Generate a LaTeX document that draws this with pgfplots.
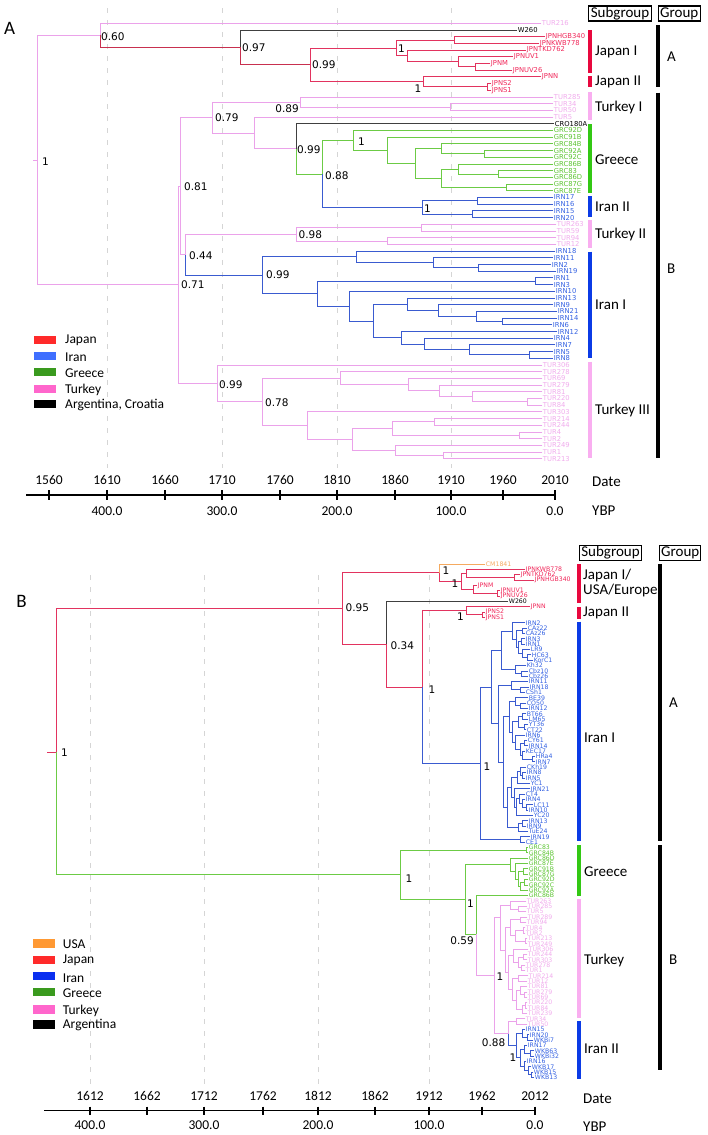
\documentclass[border=0pt]{standalone}
\usepackage{pgfplots}
\pgfplotsset{compat=1.18}
\usepackage{fontspec}
\setmainfont{Carlito}
\newfontfamily\dv{DejaVu Sans}

\definecolor{pinkline}{HTML}{EBA2EA}
\definecolor{pinklab}{HTML}{F0ACEC}
\definecolor{jpnline}{HTML}{E2335F}
\definecolor{crimson}{HTML}{C8304F}
\definecolor{jpnlab}{HTML}{F0285A}
\definecolor{grnline}{HTML}{6CCB45}
\definecolor{grnlab}{HTML}{5CC432}
\definecolor{bluline}{HTML}{3A5BD0}
\definecolor{blulab}{HTML}{3562E2}
\definecolor{blkline}{HTML}{404040}
\definecolor{orgline}{HTML}{F5AA60}
\definecolor{barjpn}{HTML}{E8083E}
\definecolor{barpink}{HTML}{F9AEF0}
\definecolor{bargrn}{HTML}{33C814}
\definecolor{barblu}{HTML}{0B3BE6}
\definecolor{lgjpn}{HTML}{FF2A2A}
\definecolor{lgiranA}{HTML}{3F6FFF}
\definecolor{lgiranB}{HTML}{0A2FF0}
\definecolor{lggrn}{HTML}{3A9A1E}
\definecolor{lgtur}{HTML}{FF66CC}
\definecolor{lgusa}{HTML}{FF9933}
\definecolor{gridc}{HTML}{D5D5D5}

% leaf index -> vertical position (panel A and panel B)
\newcommand{\YA}[1]{\fpeval{16.6+6.7*(#1)}}
\newcommand{\YB}[1]{\fpeval{558.65+5.35*(#1)}}
% one tree branch: parent (x, index) -> child (x, index)
\newcommand{\edgeA}[4]{(#1,\YA{#2}) (#1,\YA{#4}) (#3,\YA{#4}) (nan,nan) }
\newcommand{\edgeB}[4]{(#1,\YB{#2}) (#1,\YB{#4}) (#3,\YB{#4}) (nan,nan) }
\newcommand{\drawedges}[2]{\edef\tmp{\noexpand\addplot[#1] coordinates {#2};}\tmp}
\newcommand{\supv}[4][west]{\node[anchor=#1, inner sep=0pt, font=\dv\fontsize{10.5}{11}\selectfont] at (axis cs:#2,#3) {#4};}
\newcommand{\sgl}[3]{\node[anchor=west, inner sep=0pt, font=\fontsize{15}{16}\selectfont] at (axis cs:#1,#2) {#3};}
\newcommand{\tkl}[3]{\node[inner sep=0pt, font=\fontsize{13.5}{14}\selectfont] at (axis cs:#1,#2) {#3};}
\newcommand{\lgt}[3]{\node[anchor=west, inner sep=0pt, font=\fontsize{13.5}{14}\selectfont] at (axis cs:#1,#2) {#3};}

% ---------------- Panel A tree ----------------
\def\pinkA{%
(33,\YA{21.42}) (37,\YA{21.42}) (nan,nan)
\edgeA{37}{21.42}{100}{2.805}\edgeA{37}{21.42}{178}{40.034}\edgeA{100}{2.805}{541}{1}
\edgeA{178}{40.034}{180}{25.31}\edgeA{178}{40.034}{217}{54.758}
\edgeA{180}{25.31}{212}{15.061}\edgeA{180}{25.31}{185}{35.559}
\edgeA{212}{15.061}{300}{12.75}\edgeA{212}{15.061}{254}{17.373}
\edgeA{300}{12.75}{553}{12}\edgeA{300}{12.75}{450}{13.5}
\edgeA{450}{13.5}{553}{13}\edgeA{450}{13.5}{553}{14}
\edgeA{254}{17.373}{553}{15}\edgeA{254}{17.373}{296}{19.746}
\edgeA{185}{35.559}{296}{32.5}\edgeA{296}{32.5}{421}{31.5}\edgeA{296}{32.5}{387}{33.5}
\edgeA{421}{31.5}{556}{31}\edgeA{421}{31.5}{556}{32}\edgeA{387}{33.5}{556}{33}\edgeA{387}{33.5}{556}{34}
\edgeA{217}{54.758}{542}{52}\edgeA{217}{54.758}{262}{57.516}
\edgeA{262}{57.516}{340}{53.969}\edgeA{262}{57.516}{307}{61.0625}
\edgeA{340}{53.969}{542}{53}\edgeA{340}{53.969}{408}{54.9375}
\edgeA{408}{54.9375}{542}{54}\edgeA{408}{54.9375}{439}{55.875}
\edgeA{439}{55.875}{542}{55}\edgeA{439}{55.875}{472}{56.75}
\edgeA{472}{56.75}{542}{56}\edgeA{472}{56.75}{527}{57.5}
\edgeA{527}{57.5}{542}{57}\edgeA{527}{57.5}{542}{58}
\edgeA{307}{61.0625}{542}{59}\edgeA{307}{61.0625}{352}{63.125}
\edgeA{352}{63.125}{392}{61.5}\edgeA{352}{63.125}{395}{64.75}
\edgeA{392}{61.5}{434}{60.5}\edgeA{392}{61.5}{519}{62.5}
\edgeA{434}{60.5}{542}{60}\edgeA{434}{60.5}{542}{61}
\edgeA{519}{62.5}{542}{62}\edgeA{519}{62.5}{542}{63}
\edgeA{395}{64.75}{542}{64}\edgeA{395}{64.75}{443}{65.5}
\edgeA{443}{65.5}{542}{65}\edgeA{443}{65.5}{542}{66}}
\def\crimA{\edgeA{100}{2.805}{240}{4.609}\edgeA{240}{4.609}{310}{7.21875}}
\def\redA{%
\edgeA{310}{7.21875}{396}{4.6875}\edgeA{310}{7.21875}{423}{9.75}
\edgeA{396}{4.6875}{454}{3.5}\edgeA{396}{4.6875}{407}{5.875}
\edgeA{454}{3.5}{545}{3}\edgeA{454}{3.5}{539}{4}
\edgeA{407}{5.875}{526}{5}\edgeA{407}{5.875}{458}{6.75}
\edgeA{458}{6.75}{513}{6}\edgeA{458}{6.75}{475}{7.5}
\edgeA{475}{7.5}{490}{7}\edgeA{475}{7.5}{512}{8}
\edgeA{423}{9.75}{541}{9}\edgeA{423}{9.75}{487}{10.5}
\edgeA{487}{10.5}{491}{10}\edgeA{487}{10.5}{491}{11}}
\def\blackA{\edgeA{240}{4.609}{517}{2}\edgeA{296}{19.746}{554}{16}}
\def\greenA{%
\edgeA{296}{19.746}{322}{23.492}\edgeA{322}{23.492}{353}{18.484}
\edgeA{353}{18.484}{553}{17}\edgeA{353}{18.484}{387}{19.969}
\edgeA{387}{19.969}{553}{18}\edgeA{387}{19.969}{415}{21.9375}
\edgeA{415}{21.9375}{441}{19.75}\edgeA{415}{21.9375}{441}{24.125}
\edgeA{441}{19.75}{553}{19}\edgeA{441}{19.75}{484}{20.5}
\edgeA{484}{20.5}{553}{20}\edgeA{484}{20.5}{553}{21}
\edgeA{441}{24.125}{458}{22.75}\edgeA{441}{24.125}{506}{25.5}
\edgeA{458}{22.75}{553}{22}\edgeA{458}{22.75}{498}{23.5}
\edgeA{498}{23.5}{553}{23}\edgeA{498}{23.5}{553}{24}
\edgeA{506}{25.5}{553}{25}\edgeA{506}{25.5}{553}{26}}
\def\blueA{%
\edgeA{322}{23.492}{422}{28.5}\edgeA{422}{28.5}{477}{27.5}\edgeA{422}{28.5}{472}{29.5}
\edgeA{477}{27.5}{553}{27}\edgeA{477}{27.5}{553}{28}\edgeA{472}{29.5}{553}{29}\edgeA{472}{29.5}{553}{30}
\edgeA{185}{35.559}{262}{38.617}\edgeA{262}{38.617}{356}{35.875}\edgeA{262}{38.617}{317}{41.359}
\edgeA{356}{35.875}{555}{35}\edgeA{356}{35.875}{433}{36.75}
\edgeA{433}{36.75}{553}{36}\edgeA{433}{36.75}{478}{37.5}
\edgeA{478}{37.5}{551}{37}\edgeA{478}{37.5}{556}{38}
\edgeA{317}{41.359}{535}{39.5}\edgeA{317}{41.359}{349}{43.219}
\edgeA{535}{39.5}{553}{39}\edgeA{535}{39.5}{553}{40}
\edgeA{349}{43.219}{555}{41}\edgeA{349}{43.219}{373}{45.4375}
\edgeA{373}{45.4375}{407}{42.9375}\edgeA{373}{45.4375}{401}{47.9375}
\edgeA{407}{42.9375}{555}{42}\edgeA{407}{42.9375}{438}{43.875}
\edgeA{438}{43.875}{553}{43}\edgeA{438}{43.875}{476}{44.75}
\edgeA{476}{44.75}{557}{44}\edgeA{476}{44.75}{502}{45.5}
\edgeA{502}{45.5}{557}{45}\edgeA{502}{45.5}{552}{46}
\edgeA{401}{47.9375}{557}{47}\edgeA{401}{47.9375}{424}{48.875}
\edgeA{424}{48.875}{553}{48}\edgeA{424}{48.875}{469}{49.75}
\edgeA{469}{49.75}{555}{49}\edgeA{469}{49.75}{529}{50.5}
\edgeA{529}{50.5}{553}{50}\edgeA{529}{50.5}{553}{51}}

% ---------------- Panel B tree ----------------
\def\redB{%
(47,\YB{36.14}) (56,\YB{36.14}) (nan,nan)
\edgeB{56}{36.14}{342.7}{9.31}\edgeB{342.7}{9.31}{439}{2.625}\edgeB{342.7}{9.31}{386.3}{16.0}
\edgeB{439}{2.625}{461}{4.25}\edgeB{461}{4.25}{466}{2.75}\edgeB{461}{4.25}{473}{5.75}
\edgeB{466}{2.75}{525}{2}\edgeB{466}{2.75}{514}{3.5}\edgeB{514}{3.5}{520}{3}\edgeB{514}{3.5}{534}{4}
\edgeB{473}{5.75}{477}{5}\edgeB{473}{5.75}{497}{6.5}\edgeB{497}{6.5}{500}{6}\edgeB{497}{6.5}{500}{7}
\edgeB{386.3}{16.0}{422.3}{24.0}\edgeB{422.3}{24.0}{466}{9.75}
\edgeB{466}{9.75}{530}{9}\edgeB{466}{9.75}{482}{10.5}\edgeB{482}{10.5}{485}{10}\edgeB{482}{10.5}{485}{11}}
\def\orangeB{\edgeB{439}{2.625}{485}{1}}
\def\blackB{\edgeB{386.3}{16.0}{508}{8}}
\def\blueB{%
\edgeB{422.3}{24.0}{480.7}{38.26}\edgeB{480.7}{38.26}{491.7}{24.02}\edgeB{480.7}{38.26}{520}{52.5}
\edgeB{520}{52.5}{530}{52}\edgeB{520}{52.5}{525}{53}
\edgeB{491.7}{24.02}{501.7}{17.14}\edgeB{491.7}{24.02}{498.3}{30.9}
\edgeB{501.7}{17.14}{512}{13.53}\edgeB{501.7}{17.14}{515}{20.75}
\edgeB{512}{13.53}{525}{12}\edgeB{512}{13.53}{516}{15.06}
\edgeB{516}{15.06}{522}{13.5}\edgeB{516}{15.06}{518}{16.625}
\edgeB{522}{13.5}{527}{13}\edgeB{522}{13.5}{525}{14}
\edgeB{518}{16.625}{521}{15.5}\edgeB{518}{16.625}{522}{17.75}
\edgeB{521}{15.5}{525}{15}\edgeB{521}{15.5}{525}{16}
\edgeB{522}{17.75}{530}{17}\edgeB{522}{17.75}{527}{18.5}
\edgeB{527}{18.5}{531}{18}\edgeB{527}{18.5}{533}{19}
\edgeB{515}{20.75}{526}{20}\edgeB{515}{20.75}{521}{21.5}
\edgeB{521}{21.5}{528}{21}\edgeB{521}{21.5}{528}{22}
\edgeB{498.3}{30.9}{511.7}{23.75}\edgeB{498.3}{30.9}{503}{38.05}
\edgeB{511.7}{23.75}{528}{23}\edgeB{511.7}{23.75}{520}{24.5}
\edgeB{520}{24.5}{529}{24}\edgeB{520}{24.5}{525}{25}
\edgeB{503}{38.05}{509}{29.58}\edgeB{503}{38.05}{507}{46.52}
\edgeB{509}{29.58}{515}{26.75}\edgeB{509}{29.58}{512}{32.41}
\edgeB{515}{26.75}{528}{26}\edgeB{515}{26.75}{520}{27.5}
\edgeB{520}{27.5}{526}{27}\edgeB{520}{27.5}{528}{28}
\edgeB{512}{32.41}{518}{30.5}\edgeB{512}{32.41}{515}{34.31}
\edgeB{518}{30.5}{522}{29.5}\edgeB{518}{30.5}{524}{31.5}
\edgeB{522}{29.5}{526}{29}\edgeB{522}{29.5}{528}{30}
\edgeB{524}{31.5}{528}{31}\edgeB{524}{31.5}{526}{32}
\edgeB{515}{34.31}{525}{33}\edgeB{515}{34.31}{520}{35.625}
\edgeB{520}{35.625}{524}{34.5}\edgeB{520}{35.625}{522}{36.75}
\edgeB{524}{34.5}{527}{34}\edgeB{524}{34.5}{528}{35}
\edgeB{522}{36.75}{525}{36}\edgeB{522}{36.75}{532}{37.5}
\edgeB{532}{37.5}{535}{37}\edgeB{532}{37.5}{535}{38}
\edgeB{507}{46.52}{511}{42.8}\edgeB{507}{46.52}{518}{50.25}
\edgeB{511}{42.8}{517}{40.875}\edgeB{511}{42.8}{514}{44.72}
\edgeB{517}{40.875}{520}{39.75}\edgeB{517}{40.875}{530}{42}
\edgeB{520}{39.75}{526}{39}\edgeB{520}{39.75}{522}{40.5}
\edgeB{522}{40.5}{526}{40}\edgeB{522}{40.5}{525}{41}
\edgeB{514}{44.72}{530}{43}\edgeB{514}{44.72}{516}{46.44}
\edgeB{516}{46.44}{519}{44.875}\edgeB{516}{46.44}{533}{48}
\edgeB{519}{44.875}{525}{44}\edgeB{519}{44.875}{522}{45.75}
\edgeB{522}{45.75}{525}{45}\edgeB{522}{45.75}{526}{46.5}
\edgeB{526}{46.5}{533}{46}\edgeB{526}{46.5}{528}{47}
\edgeB{518}{50.25}{522}{49.5}\edgeB{518}{50.25}{528}{51}
\edgeB{522}{49.5}{528}{49}\edgeB{522}{49.5}{526}{50}
\edgeB{508}{88.77}{516}{91.03}\edgeB{516}{91.03}{522}{88.75}\edgeB{516}{91.03}{520}{93.31}
\edgeB{522}{88.75}{525}{88}\edgeB{522}{88.75}{527}{89.5}
\edgeB{527}{89.5}{529}{89}\edgeB{527}{89.5}{533}{90}
\edgeB{520}{93.31}{524}{91.75}\edgeB{520}{93.31}{524}{94.875}
\edgeB{524}{91.75}{527}{91}\edgeB{524}{91.75}{530}{92.5}
\edgeB{530}{92.5}{534}{92}\edgeB{530}{92.5}{534}{93}
\edgeB{524}{94.875}{526}{94}\edgeB{524}{94.875}{528}{95.75}
\edgeB{528}{95.75}{531}{95}\edgeB{528}{95.75}{531}{96.5}
\edgeB{531}{96.5}{533}{96}\edgeB{531}{96.5}{534}{97}}
\def\greenB{%
\edgeB{56}{36.14}{400}{59.1}\edgeB{400}{59.1}{526}{54.5}
\edgeB{526}{54.5}{528}{54}\edgeB{526}{54.5}{528}{55}
\edgeB{400}{59.1}{465}{63.69}\edgeB{465}{63.69}{510}{57.22}\edgeB{465}{63.69}{476.3}{70.16}
\edgeB{510}{57.22}{528}{56}\edgeB{510}{57.22}{515}{58.44}
\edgeB{515}{58.44}{528}{57}\edgeB{515}{58.44}{518}{59.875}
\edgeB{518}{59.875}{523}{58.5}\edgeB{518}{59.875}{520}{61.25}
\edgeB{523}{58.5}{528}{58}\edgeB{523}{58.5}{528}{59}
\edgeB{520}{61.25}{524}{60.5}\edgeB{520}{61.25}{528}{62}
\edgeB{524}{60.5}{528}{60}\edgeB{524}{60.5}{528}{61}
\edgeB{476.3}{70.16}{528}{63}}
\def\pinkB{%
\edgeB{476.3}{70.16}{494}{77.9}\edgeB{494}{77.9}{500}{67}\edgeB{494}{77.9}{508}{88.77}
\edgeB{500}{67}{510}{64.75}\edgeB{500}{67}{505}{73.19}
\edgeB{510}{64.75}{526}{64}\edgeB{510}{64.75}{518}{65.5}
\edgeB{518}{65.5}{527}{65}\edgeB{518}{65.5}{526}{66}
\edgeB{505}{73.19}{510}{69}\edgeB{505}{73.19}{508}{77.375}
\edgeB{510}{69}{520}{67.5}\edgeB{510}{69}{515}{70.5}
\edgeB{520}{67.5}{527}{67}\edgeB{520}{67.5}{526}{68}
\edgeB{515}{70.5}{523}{69.5}\edgeB{515}{70.5}{525}{71.5}
\edgeB{523}{69.5}{525}{69}\edgeB{523}{69.5}{525}{70}
\edgeB{525}{71.5}{527}{71}\edgeB{525}{71.5}{527}{72}
\edgeB{508}{77.375}{513}{74.25}\edgeB{508}{77.375}{512}{80.5}
\edgeB{513}{74.25}{528}{73}\edgeB{513}{74.25}{518}{75.5}
\edgeB{518}{75.5}{523}{74.5}\edgeB{518}{75.5}{521}{76.5}
\edgeB{523}{74.5}{527}{74}\edgeB{523}{74.5}{527}{75}
\edgeB{521}{76.5}{525}{76}\edgeB{521}{76.5}{525}{77}
\edgeB{512}{80.5}{518}{78.5}\edgeB{512}{80.5}{516}{82.5}
\edgeB{518}{78.5}{528}{78}\edgeB{518}{78.5}{527}{79}
\edgeB{516}{82.5}{520}{80.75}\edgeB{516}{82.5}{522}{84.25}
\edgeB{520}{80.75}{527}{80}\edgeB{520}{80.75}{524}{81.5}
\edgeB{524}{81.5}{527}{81}\edgeB{524}{81.5}{527}{82}
\edgeB{522}{84.25}{525}{83.5}\edgeB{522}{84.25}{527}{85}
\edgeB{525}{83.5}{527}{83}\edgeB{525}{83.5}{527}{84}
\edgeB{508}{88.77}{516}{86.5}\edgeB{516}{86.5}{525}{86}\edgeB{516}{86.5}{527}{87}}

\pgfplotsset{
  tree/.style={line width=1pt, mark=none},
  leafA/.style={only marks, mark=*, mark size=0pt, mark options={draw=none,fill=none},
    nodes near coords, point meta=explicit symbolic,
    every node near coord/.append style={anchor=west, inner sep=0.7pt, font=\dv\fontsize{6.8}{7}\selectfont, text=#1}},
  leafB/.style={only marks, mark=*, mark size=0pt, mark options={draw=none,fill=none},
    nodes near coords, point meta=explicit symbolic,
    every node near coord/.append style={anchor=west, inner sep=0.7pt, font=\dv\fontsize{6.2}{6.5}\selectfont, text=#1}},
}

\begin{document}
\begin{tikzpicture}
\begin{axis}[name=ax, at={(0,0)}, anchor=north west, x=1pt, y=1pt,
  xmin=0, xmax=708, ymin=0, ymax=1135, y dir=reverse, hide axis, clip=false,
  unbounded coords=jump]

% ---------- grid lines ----------
\addplot[gridc, line width=0.7pt, dash pattern=on 5pt off 7pt] coordinates {(107,8) (107,468) (nan,nan) (222,8) (222,468) (nan,nan) (337,8) (337,468) (nan,nan) (451,8) (451,468)};
\addplot[gridc, line width=0.7pt, dash pattern=on 5pt off 7pt] coordinates {(90,575) (90,1085) (nan,nan) (204,575) (204,1085) (nan,nan) (318,575) (318,1085) (nan,nan) (429,575) (429,1085)};

% ---------- panel A tree ----------
\drawedges{tree,pinkline}{\pinkA}
\drawedges{tree,crimson}{\crimA}
\drawedges{tree,jpnline}{\redA}
\drawedges{tree,blkline}{\blackA}
\drawedges{tree,grnline}{\greenA}
\drawedges{tree,bluline}{\blueA}

\addplot[leafA=pinklab] table[x=x, y expr=16.6+6.7*\thisrow{i}, meta=lab, row sep=\\] {
x i lab\\ 541 1 TUR216\\ 553 12 TUR285\\ 553 13 TUR34\\ 553 14 TUR50\\ 553 15 TUR5\\
556 31 TUR263\\ 556 32 TUR59\\ 556 33 TUR94\\ 556 34 TUR12\\
542 52 TUR306\\ 542 53 TUR278\\ 542 54 TUR69\\ 542 55 TUR279\\ 542 56 TUR81\\ 542 57 TUR220\\
542 58 TUR84\\ 542 59 TUR303\\ 542 60 TUR214\\ 542 61 TUR244\\ 542 62 TUR4\\ 542 63 TUR2\\
542 64 TUR249\\ 542 65 TUR1\\ 542 66 TUR213\\};
\addplot[leafA=black] table[x=x, y expr=16.6+6.7*\thisrow{i}, meta=lab, row sep=\\] {
x i lab\\ 517 2 W260\\ 554 16 CRO180A\\};
\addplot[leafA=jpnlab] table[x=x, y expr=16.6+6.7*\thisrow{i}, meta=lab, row sep=\\] {
x i lab\\ 545 3 JPNHGB340\\ 539 4 JPNKWB778\\ 526 5 JPNTKD762\\ 513 6 JPNUV1\\ 490 7 JPNM\\
512 8 JPNUV26\\ 541 9 JPNN\\ 491 10 JPNS2\\ 491 11 JPNS1\\};
\addplot[leafA=grnlab] table[x=x, y expr=16.6+6.7*\thisrow{i}, meta=lab, row sep=\\] {
x i lab\\ 553 17 GRC92D\\ 553 18 GRC91B\\ 553 19 GRC84B\\ 553 20 GRC92A\\ 553 21 GRC92C\\
553 22 GRC86B\\ 553 23 GRC83\\ 553 24 GRC86D\\ 553 25 GRC87G\\ 553 26 GRC87E\\};
\addplot[leafA=blulab] table[x=x, y expr=16.6+6.7*\thisrow{i}, meta=lab, row sep=\\] {
x i lab\\ 553 27 IRN17\\ 553 28 IRN16\\ 553 29 IRN15\\ 553 30 IRN20\\
555 35 IRN18\\ 553 36 IRN11\\ 551 37 IRN2\\ 556 38 IRN19\\ 553 39 IRN1\\ 553 40 IRN3\\
555 41 IRN10\\ 555 42 IRN13\\ 553 43 IRN9\\ 557 44 IRN21\\ 557 45 IRN14\\ 552 46 IRN6\\
557 47 IRN12\\ 553 48 IRN4\\ 555 49 IRN7\\ 553 50 IRN5\\ 553 51 IRN8\\};

% support values A
\supv{42}{162}{1}
\supv{101}{36.7}{0.60}
\supv{242}{48}{0.97}
\supv{312}{65}{0.99}
\supv{398}{48.3}{1}
\supv[east]{421.5}{88.3}{1}
\supv[east]{299}{108.3}{0.89}
\supv{215}{117.7}{0.79}
\supv{297}{150}{0.99}
\supv{325}{176}{0.88}
\supv{358}{141.7}{1}
\supv{424}{208.3}{1}
\supv{184}{186.7}{0.81}
\supv{298.5}{234.3}{0.98}
\supv{189}{255.7}{0.44}
\supv{266}{275}{0.99}
\supv{181}{285}{0.71}
\supv{219}{384.3}{0.99}
\supv{265}{402.3}{0.78}

% subgroup / group bars A
\addplot[barjpn, line width=4pt] coordinates {(590,30) (590,72.7) (nan,nan) (590,76) (590,87.3)};
\addplot[barpink, line width=4pt] coordinates {(590,92) (590,120) (nan,nan) (590,220) (590,248.3) (nan,nan) (590,361.7) (590,458.3)};
\addplot[bargrn, line width=4pt] coordinates {(590,124) (590,192.7)};
\addplot[barblu, line width=4pt] coordinates {(590,196) (590,216.7) (nan,nan) (590,251.7) (590,358.3)};
\addplot[black, line width=4.3pt] coordinates {(658,25) (658,87.3) (nan,nan) (658,92.7) (658,458.3)};

\node[draw, line width=1.1pt, minimum width=63pt, minimum height=15pt, inner sep=0pt, font=\fontsize{15}{16}\selectfont] at (axis cs:620,13.5) {Subgroup};
\node[draw, line width=1.1pt, minimum width=42.5pt, minimum height=15pt, inner sep=0pt, font=\fontsize{15}{16}\selectfont] at (axis cs:679.3,13.5) {Group};
\sgl{595}{52}{Japan I}
\sgl{595}{82}{Japan II}
\sgl{595}{107}{Turkey I}
\sgl{595}{160}{Greece}
\sgl{595}{207}{Iran II}
\sgl{595}{234}{Turkey II}
\sgl{595}{305}{Iran I}
\sgl{595}{410}{Turkey III}
\sgl{667}{57}{A}
\sgl{667}{269}{B}
\node[font=\fontsize{19}{20}\selectfont, inner sep=0pt] at (axis cs:9.5,28) {A};

% legend A
\addplot[lgjpn, line width=8pt] coordinates {(34,340) (56,340)};
\addplot[lgiranA, line width=8pt] coordinates {(34,355.8) (56,355.8)};
\addplot[lggrn, line width=8pt] coordinates {(34,372) (56,372)};
\addplot[lgtur, line width=8pt] coordinates {(34,389) (56,389)};
\addplot[black, line width=8pt] coordinates {(34,404) (56,404)};
\lgt{65}{340.5}{Japan}
\lgt{65}{357.5}{Iran}
\lgt{65}{373.5}{Greece}
\lgt{65}{390}{Turkey}
\lgt{65}{405}{Argentina, Croatia}

% time axis A
\addplot[black, line width=1.3pt] coordinates {(26,495) (555,495)};
\addplot[black, line width=1.3pt] coordinates {(49,490) (49,500) (nan,nan) (107,490) (107,500) (nan,nan) (165,490) (165,500) (nan,nan) (222,490) (222,500) (nan,nan) (280,490) (280,500) (nan,nan) (337,490) (337,500) (nan,nan) (395,490) (395,500) (nan,nan) (451,490) (451,500) (nan,nan) (503,490) (503,500) (nan,nan) (555,490) (555,500)};
\tkl{49}{480}{1560}\tkl{107}{480}{1610}\tkl{165}{480}{1660}\tkl{222}{480}{1710}\tkl{280}{480}{1760}
\tkl{337}{480}{1810}\tkl{395}{480}{1860}\tkl{451}{480}{1910}\tkl{503}{480}{1960}\tkl{555}{480}{2010}
\tkl{107}{511}{400.0}\tkl{222}{511}{300.0}\tkl{337}{511}{200.0}\tkl{451}{511}{100.0}\tkl{555}{511}{0.0}
\sgl{592}{482}{Date}
\sgl{592}{511}{YBP}

% ---------- panel B tree ----------
\drawedges{tree,jpnline}{\redB}
\drawedges{tree,orgline}{\orangeB}
\drawedges{tree,blkline}{\blackB}
\drawedges{tree,grnline}{\greenB}
\drawedges{tree,pinkline}{\pinkB}
\drawedges{tree,bluline}{\blueB}

\addplot[leafB=orgline] table[x=x, y expr=558.65+5.35*\thisrow{i}, meta=lab, row sep=\\] {
x i lab\\ 485 1 CM1841\\};
\addplot[leafB=jpnlab] table[x=x, y expr=558.65+5.35*\thisrow{i}, meta=lab, row sep=\\] {
x i lab\\ 525 2 JPNKWB778\\ 520 3 JPNTKD762\\ 534 4 JPNHGB340\\ 477 5 JPNM\\ 500 6 JPNUV1\\
500 7 JPNUV26\\ 530 9 JPNN\\ 485 10 JPNS2\\ 485 11 JPNS1\\};
\addplot[leafB=black] table[x=x, y expr=558.65+5.35*\thisrow{i}, meta=lab, row sep=\\] {
x i lab\\ 508 8 W260\\};
\addplot[leafB=blulab] table[x=x, y expr=558.65+5.35*\thisrow{i}, meta=lab, row sep=\\] {
x i lab\\ 525 12 IRN2\\ 527 13 CAz22\\ 525 14 CAz26\\ 525 15 IRN3\\ 525 16 IRN1\\ 530 17 LR9\\
531 18 HC63\\ 533 19 KorC1\\ 526 20 Kh32\\ 528 21 Cbz10\\ 528 22 Cbz26\\ 528 23 IRN11\\
529 24 IRN18\\ 525 25 CSh1\\ 528 26 BE39\\ 526 27 CO50\\ 528 28 IRN12\\ 526 29 BT66\\
528 30 LM65\\ 528 31 YT36\\ 526 32 CT22\\ 525 33 IRN6\\ 527 34 CY61\\ 528 35 IRN14\\
525 36 KEC17\\ 535 37 HRa4\\ 535 38 IRN7\\ 526 39 CKh19\\ 526 40 IRN8\\ 525 41 IRN5\\
530 42 YC1\\ 530 43 IRN21\\ 525 44 CT4\\ 525 45 IRN4\\ 533 46 LC11\\ 528 47 IRN10\\
533 48 YC20\\ 528 49 IRN13\\ 526 50 IRN9\\ 528 51 TuE24\\ 530 52 IRN19\\ 525 53 CE1\\
525 88 IRN15\\ 529 89 IRN20\\ 533 90 WKBi7\\ 527 91 IRN17\\ 534 92 WKB63\\ 534 93 WKBi32\\
526 94 IRN16\\ 531 95 WKB17\\ 533 96 WKB15\\ 534 97 WKB13\\};
\addplot[leafB=grnlab] table[x=x, y expr=558.65+5.35*\thisrow{i}, meta=lab, row sep=\\] {
x i lab\\ 528 54 GRC83\\ 528 55 GRC84B\\ 528 56 GRC86D\\ 528 57 GRC87E\\ 528 58 GRC91B\\
528 59 GRC87G\\ 528 60 GRC92D\\ 528 61 GRC92C\\ 528 62 GRC92A\\ 528 63 GRC86B\\};
\addplot[leafB=pinklab] table[x=x, y expr=558.65+5.35*\thisrow{i}, meta=lab, row sep=\\] {
x i lab\\ 526 64 TUR263\\ 527 65 TUR285\\ 526 66 TUR5\\ 527 67 TUR289\\ 526 68 TUR94\\
525 69 TUR4\\ 525 70 TUR2\\ 527 71 TUR213\\ 527 72 TUR249\\ 528 73 TUR306\\ 527 74 TUR244\\
527 75 TUR303\\ 525 76 TUR278\\ 525 77 TUR1\\ 528 78 TUR214\\ 527 79 TUR12\\ 527 80 TUR81\\
527 81 TUR279\\ 527 82 TUR69\\ 527 83 TUR220\\ 527 84 TUR84\\ 527 85 TUR239\\ 525 86 TUR34\\
527 87 TUR50\\};

% support values B
\supv{61}{752.7}{1}
\supv{345.5}{608}{0.95}
\supv{390.5}{646}{0.34}
\supv{442.3}{571}{1}
\supv[east]{458.5}{583.3}{1}
\supv[east]{464}{616.7}{1}
\supv{428.5}{689.3}{1}
\supv{483.3}{766.7}{1}
\supv{405.5}{878.3}{1}
\supv{467}{904}{1}
\supv[east]{474}{940.7}{0.59}
\supv{496.5}{976.7}{1}
\supv[east]{505.5}{1042.7}{0.88}
\supv[east]{516.5}{1057.3}{1}

% subgroup / group bars B
\addplot[barjpn, line width=4pt] coordinates {(578.7,564) (578.7,603.3) (nan,nan) (578.7,607.3) (578.7,619.3)};
\addplot[barblu, line width=4pt] coordinates {(578.7,621.7) (578.7,841) (nan,nan) (578.7,1021) (578.7,1079.3)};
\addplot[bargrn, line width=4pt] coordinates {(578.7,845.3) (578.7,896)};
\addplot[barpink, line width=4pt] coordinates {(578.7,899.3) (578.7,1017.7)};
\addplot[black, line width=4.3pt] coordinates {(660.2,564) (660.2,841) (nan,nan) (660.2,845.3) (660.2,1070)};

\node[draw, line width=1.1pt, minimum width=61.5pt, minimum height=15pt, inner sep=0pt, font=\fontsize{15}{16}\selectfont] at (axis cs:610.5,553) {Subgroup};
\node[draw, line width=1.1pt, minimum width=41pt, minimum height=15pt, inner sep=0pt, font=\fontsize{15}{16}\selectfont] at (axis cs:680.3,553) {Group};
\sgl{583}{575}{Japan I/}
\sgl{583}{590}{USA/Europe}
\sgl{583}{612.5}{Japan II}
\sgl{584}{738}{Iran I}
\sgl{584}{871.7}{Greece}
\sgl{584}{960.7}{Turkey}
\sgl{584}{1048.3}{Iran II}
\sgl{669}{702.7}{A}
\sgl{669}{960}{B}
\node[font=\fontsize{19}{20}\selectfont, inner sep=0pt] at (axis cs:21.5,601.7) {B};

% legend B
\addplot[lgusa, line width=8.5pt] coordinates {(33,943.7) (55,943.7)};
\addplot[lgjpn, line width=8.5pt] coordinates {(33,960) (55,960)};
\addplot[lgiranB, line width=8.5pt] coordinates {(33,975.8) (55,975.8)};
\addplot[lggrn, line width=8.5pt] coordinates {(33,991.8) (55,991.8)};
\addplot[lgtur, line width=8.5pt] coordinates {(33,1009.3) (55,1009.3)};
\addplot[black, line width=8.5pt] coordinates {(33,1024.7) (55,1024.7)};
\lgt{62.7}{944.5}{USA}
\lgt{62.7}{960.5}{Japan}
\lgt{62.7}{978}{Iran}
\lgt{62.7}{993.5}{Greece}
\lgt{62.7}{1010.5}{Turkey}
\lgt{62.7}{1025}{Argentina}

% time axis B
\addplot[black, line width=1.3pt] coordinates {(44,1110.7) (535,1110.7)};
\addplot[black, line width=1.3pt] coordinates {(90,1106.5) (90,1115) (nan,nan) (147,1106.5) (147,1115) (nan,nan) (204,1106.5) (204,1115) (nan,nan) (263,1106.5) (263,1115) (nan,nan) (318,1106.5) (318,1115) (nan,nan) (375,1106.5) (375,1115) (nan,nan) (429,1106.5) (429,1115) (nan,nan) (482,1106.5) (482,1115) (nan,nan) (535,1106.5) (535,1115)};
\tkl{90}{1096}{1612}\tkl{147}{1096}{1662}\tkl{204}{1096}{1712}\tkl{263}{1096}{1762}\tkl{318}{1096}{1812}
\tkl{375}{1096}{1862}\tkl{429}{1096}{1912}\tkl{482}{1096}{1962}\tkl{535}{1096}{2012}
\tkl{90}{1125}{400.0}\tkl{204}{1125}{300.0}\tkl{318}{1125}{200.0}\tkl{429}{1125}{100.0}\tkl{535}{1125}{0.0}
\sgl{583}{1098.3}{Date}
\sgl{583}{1126.7}{YBP}

\end{axis}
\pgfresetboundingbox
\useasboundingbox (ax.south west) rectangle (ax.north east);
\end{tikzpicture}
\end{document}
